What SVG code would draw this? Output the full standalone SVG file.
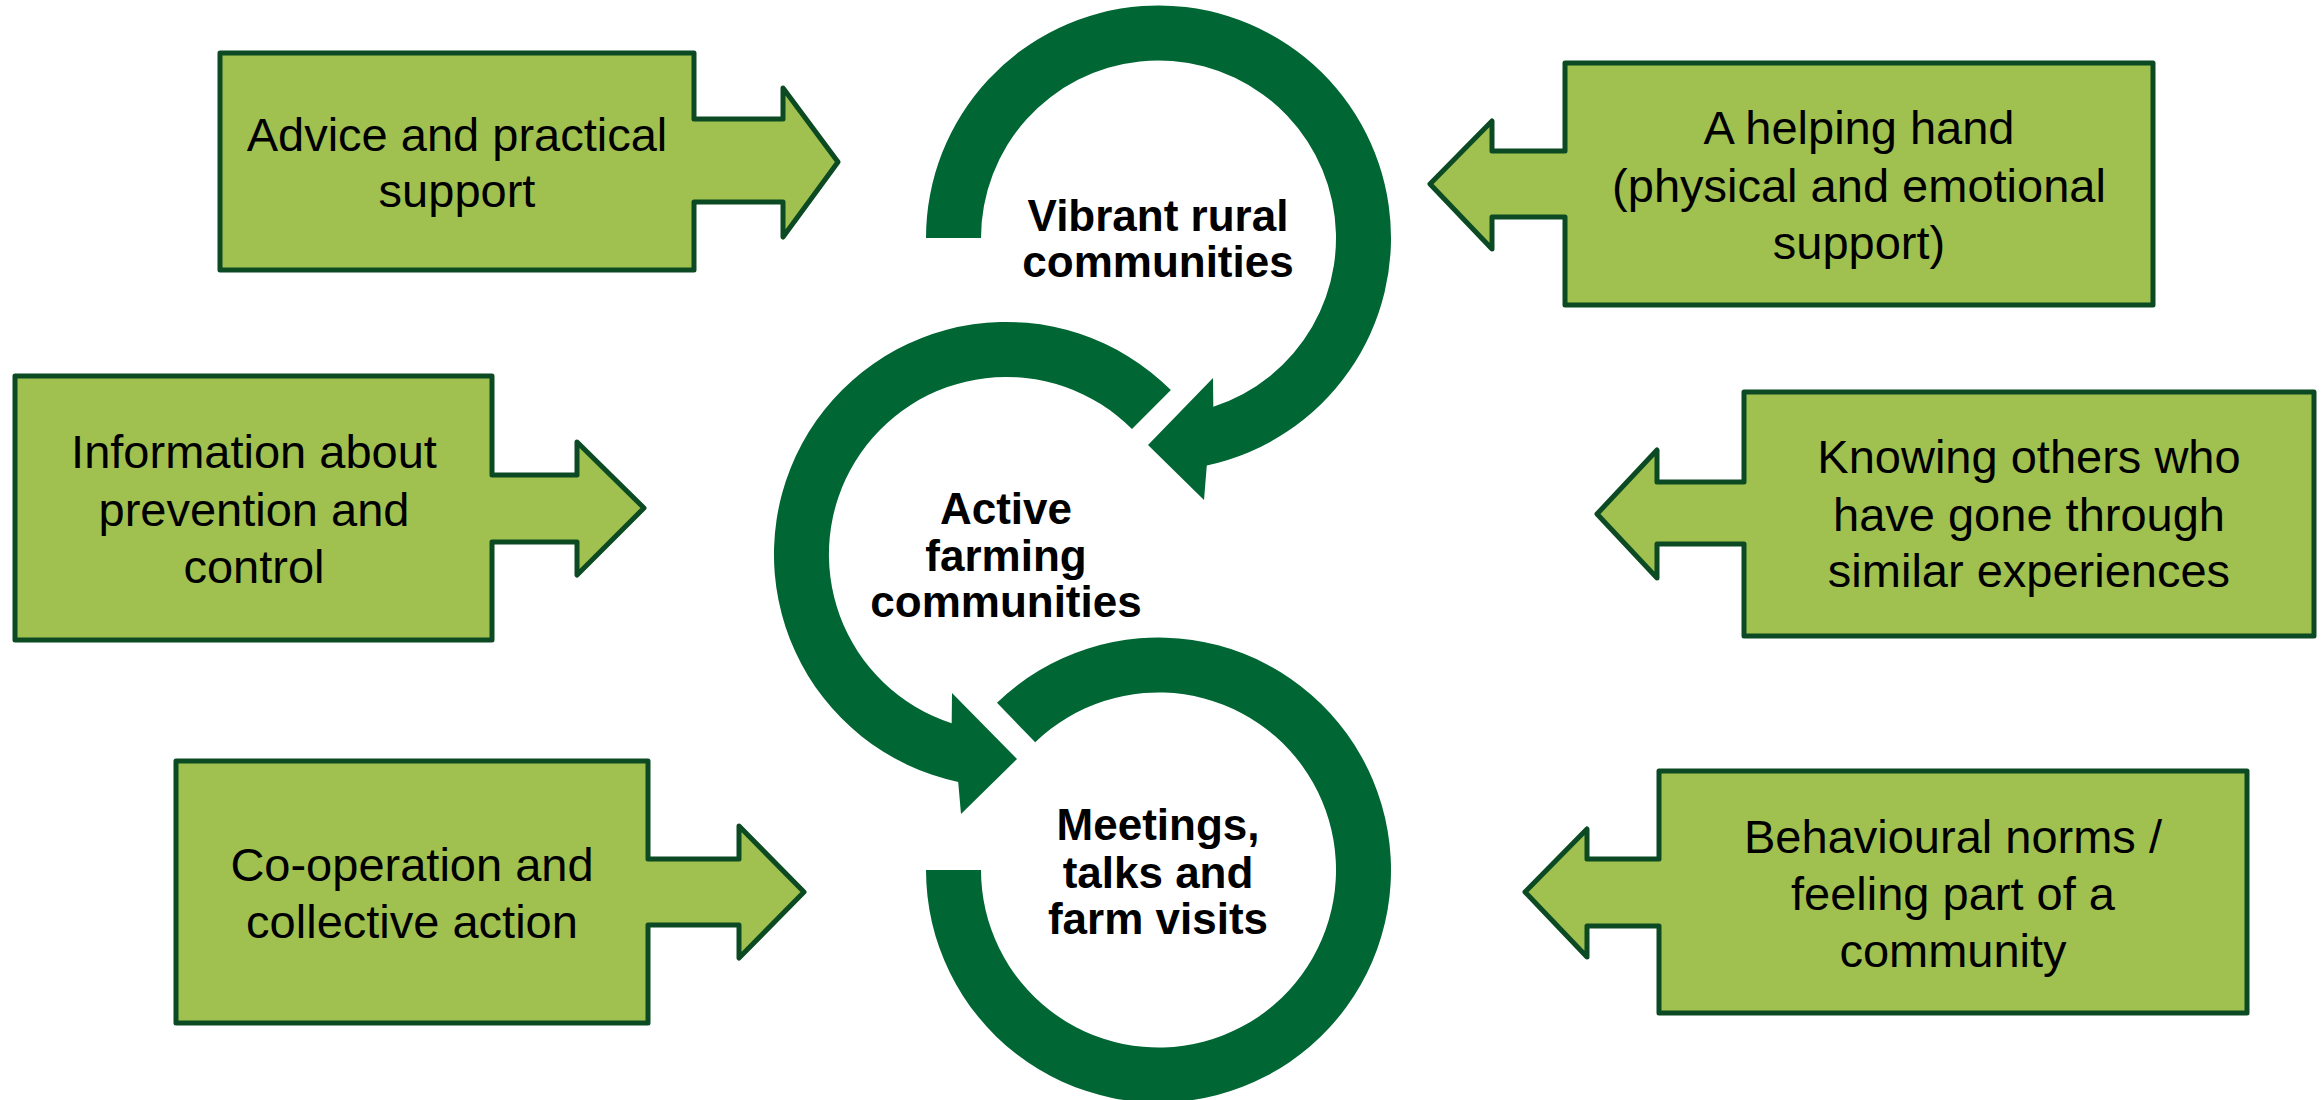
<svg xmlns="http://www.w3.org/2000/svg" width="2323" height="1100" viewBox="0 0 2323 1100">
<style>
.bg{fill:#ffffff}
.box{fill:#a0c050;stroke:#0b4a22;stroke-width:5;stroke-linejoin:round}
.ring{fill:#006633}
.bt{font-family:"Liberation Sans",Arial,sans-serif;font-size:47px;fill:#000;text-anchor:middle}
.ct{font-family:"Liberation Sans",Arial,sans-serif;font-size:44px;font-weight:bold;fill:#000;text-anchor:middle}
</style>
<rect class="bg" x="0" y="0" width="2323" height="1100"/>
<g id="connectors">
<path class="ring" d="M 926 238 A 232.5 232.5 0 1 1 1206.8 465.4 L 1204 500 L 1148 445 L 1213 378 L 1213.3 406.8 A 177.5 177.5 0 1 0 981 238 Z"/>
<path class="ring" d="M 1170.9 390.1 A 232.5 232.5 0 1 0 958.2 781.9 L 961 814 L 1017 759 L 952 693 L 951.7 723.3 A 177.5 177.5 0 1 1 1132 429 Z"/>
<path class="ring" d="M 997 702.8 A 232.5 232.5 0 1 1 926 870 L 981 870 A 177.5 177.5 0 1 0 1035.2 742.3 Z"/>
</g>
<g id="vibrant">
<text class="ct" x="1158" y="231">Vibrant rural</text>
<text class="ct" x="1158" y="277">communities</text>
</g>
<g id="active">
<text class="ct" x="1006" y="524">Active</text>
<text class="ct" x="1006" y="571">farming</text>
<text class="ct" x="1006" y="617">communities</text>
</g>
<g id="meetings">
<text class="ct" x="1158" y="840">Meetings,</text>
<text class="ct" x="1158" y="888">talks and</text>
<text class="ct" x="1158" y="934">farm visits</text>
</g>
<g id="advice">
<polygon class="box" points="220,53 694,53 694,119 783,119 783,88 838,162 783,237 783,202 694,202 694,270 220,270"/>
<text class="bt" x="457" y="151">Advice and practical</text>
<text class="bt" x="457" y="207">support</text>
</g>
<g id="helping">
<polygon class="box" points="1565,63 2153,63 2153,305 1565,305 1565,217 1492,217 1492,249 1430,184 1492,121 1492,151 1565,151"/>
<text class="bt" x="1859" y="144">A helping hand</text>
<text class="bt" x="1859" y="202">(physical and emotional</text>
<text class="bt" x="1859" y="259">support)</text>
</g>
<g id="information">
<polygon class="box" points="15,376 492,376 492,475 577,475 577,442 644,508 577,575 577,542 492,542 492,640 15,640"/>
<text class="bt" x="254" y="468">Information about</text>
<text class="bt" x="254" y="526">prevention and</text>
<text class="bt" x="254" y="583">control</text>
</g>
<g id="knowing">
<polygon class="box" points="1744,392 2314,392 2314,636 1744,636 1744,544 1657,544 1657,578 1597,514 1657,450 1657,482 1744,482"/>
<text class="bt" x="2029" y="473">Knowing others who</text>
<text class="bt" x="2029" y="531">have gone through</text>
<text class="bt" x="2029" y="587">similar experiences</text>
</g>
<g id="cooperation">
<polygon class="box" points="176,761 648,761 648,859 739,859 739,826 804,892 739,958 739,925 648,925 648,1023 176,1023"/>
<text class="bt" x="412" y="881">Co-operation and</text>
<text class="bt" x="412" y="938">collective action</text>
</g>
<g id="behavioural">
<polygon class="box" points="1659,771 2247,771 2247,1013 1659,1013 1659,926 1587,926 1587,957 1525,892 1587,829 1587,859 1659,859"/>
<text class="bt" x="1953" y="853">Behavioural norms /</text>
<text class="bt" x="1953" y="910">feeling part of a</text>
<text class="bt" x="1953" y="967">community</text>
</g>
</svg>
